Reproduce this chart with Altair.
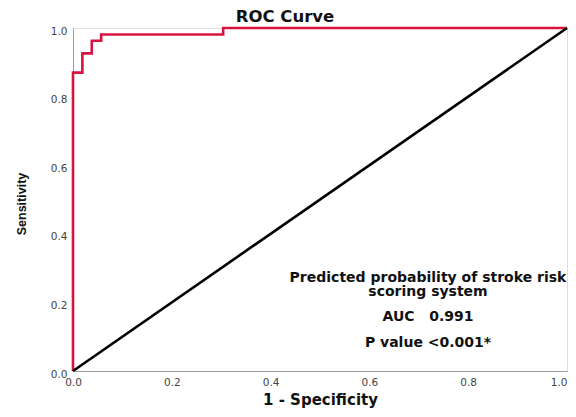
import altair as alt
import pandas as pd

# ROC curve corner points (1 - specificity, sensitivity)
fpr = [0.0, 0.0, 0.019, 0.019, 0.038, 0.038, 0.057, 0.057, 0.304, 0.304, 1.0]
tpr = [0.0, 0.870, 0.870, 0.926, 0.926, 0.963, 0.963, 0.981, 0.981, 1.0, 1.0]
ref_x = [0.0, 1.0]
ref_y = [0.0, 1.0]
tick_vals = [0.0, 0.2, 0.4, 0.6, 0.8, 1.0]
title_text = "ROC Curve"
x_title = "1 - Specificity"
y_title = "Sensitivity"
note_lines = ["Predicted probability of stroke risk", "scoring system",
              "AUC\u00a0\u00a0\u00a00.991", "P value <0.001*"]

roc = pd.DataFrame({"x": fpr, "y": tpr, "o": list(range(len(fpr)))})
ref = pd.DataFrame({"x": ref_x, "y": ref_y})

W, H = 494, 343

xs = alt.Scale(domain=[0, 1], nice=False, zero=False)
ys = alt.Scale(domain=[0, 1], nice=False, zero=False)

x_axis = alt.Axis(values=tick_vals, format=".1f", title=x_title, grid=False,
                  ticks=False, domainColor="#999999", domainWidth=1,
                  labelFont="DejaVu Sans", labelFontSize=10.5, labelColor="#444444",
                  labelPadding=6, labelFlush=False, labelOverlap=False,
                  labelAlign=alt.condition("datum.value == 1", alt.value("right"),
                                           alt.value("center")),
                  titleFont="DejaVu Sans", titleFontSize=15, titleFontWeight="bold",
                  titleColor="#111111", titleY=33, titleBaseline="alphabetic")
y_axis = alt.Axis(values=tick_vals, format=".1f", title=y_title, grid=False,
                  ticks=False, domainColor="#999999", domainWidth=1,
                  labelFont="DejaVu Sans", labelFontSize=10.5, labelColor="#444444",
                  labelPadding=6, labelFlush=False, labelOverlap=False,
                  labelBaseline="middle", labelOffset=3,
                  titleFont="Liberation Sans", titleFontSize=12.5,
                  titleFontWeight="bold", titleColor="#111111", titleAngle=-90,
                  titleX=-48, titleY=H / 2 + 4, titleBaseline="alphabetic",
                  titleAlign="center")

roc_line = alt.Chart(roc).mark_line(color="#d7143f", strokeWidth=2.6,
                                    strokeJoin="miter", strokeCap="butt").encode(
    x=alt.X("x:Q", scale=xs, axis=x_axis),
    y=alt.Y("y:Q", scale=ys, axis=y_axis),
    order="o:Q",
)

ref_line = alt.Chart(ref).mark_line(color="#000000", strokeWidth=2.6).encode(
    x=alt.X("x:Q", scale=xs),
    y=alt.Y("y:Q", scale=ys),
)

title_mark = alt.Chart(pd.DataFrame({"t": [title_text]})).mark_text(
    font="DejaVu Sans", fontSize=16.5, fontWeight="bold", color="#111111",
    align="center", baseline="alphabetic").encode(
    text="t:N", x=alt.value(212), y=alt.value(-6))

note_y = [253.5, 268, 293, 319]
notes = []
for line, yy in zip(note_lines, note_y):
    notes.append(alt.Chart(pd.DataFrame({"t": [line]})).mark_text(
        font="DejaVu Sans", fontSize=14, fontWeight="bold", color="#111111",
        align="center", baseline="alphabetic").encode(
        text="t:N", x=alt.value(355), y=alt.value(yy)))

chart = alt.layer(roc_line, ref_line, title_mark, *notes).properties(
    width=W, height=H,
    autosize=alt.AutoSizeParams(type="none"),
    padding={"left": 65, "top": 20, "right": 1, "bottom": 38},
).configure_view(stroke=None).configure(background="white")

chart.save("out.html", embed_options={"renderer": "svg", "actions": False})
